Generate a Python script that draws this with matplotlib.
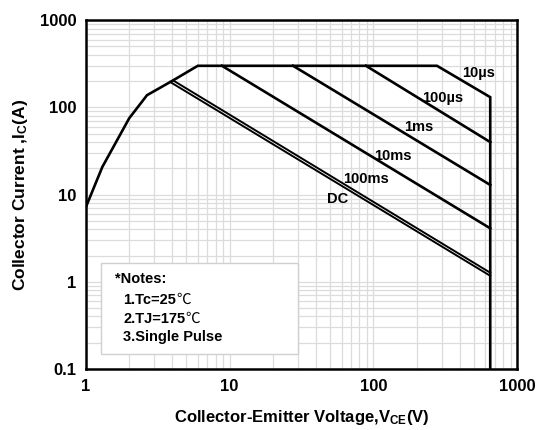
import matplotlib
matplotlib.use("Agg")
import matplotlib.pyplot as plt
import matplotlib.patches as mpatches
from matplotlib.ticker import LogLocator, NullFormatter, FixedLocator, FixedFormatter

plt.rcParams["font.family"] = ["Liberation Sans", "DejaVu Sans"]
plt.rcParams["font.weight"] = "bold"
plt.rcParams["mathtext.default"] = "regular"

# ---------------------------------------------------------------------------
# Data
# ---------------------------------------------------------------------------
# 10us envelope: rising limit, 300 A ceiling, power limit, 650 V wall
env_v = [1.0, 1.3, 2.0, 2.66, 4.04, 6.0, 277, 650, 650]
env_i = [7.2, 20.7, 75, 138, 204, 300, 300, 131, 0.1]

us100_v = [88.8, 650]
us100_i = [300, 40]
ms1_v = [27.6, 650]
ms1_i = [300, 12.9]
ms10_v = [8.84, 650]
ms10_i = [300, 4.1]
ms100_v = [4.04, 650]
ms100_i = [204, 1.27]
dc_v = [3.85, 650]
dc_i = [196, 1.17]

curve_labels = ["10µs", "100µs", "1ms", "10ms", "100ms", "DC"]
label_v = [535, 305, 208, 137, 89, 56]
label_i = [247, 128, 59, 27.6, 15.1, 8.9]

x_ticks = [1, 10, 100, 1000]
x_ticklabels = ["1", "10", "100", "1000"]
y_ticks = [0.1, 1, 10, 100, 1000]
y_ticklabels = ["0.1", "1", "10", "100", "1000"]

notes = ["*Notes:", "1.Tc=25", "2.TJ=175", "3.Single Pulse"]
notes_unit = ["", "℃", "℃", ""]

# ---------------------------------------------------------------------------
fig = plt.figure(figsize=(5.37, 4.30), dpi=100)
ax = fig.add_axes([0.160, 0.142, 0.803, 0.811])

ax.set_xscale("log")
ax.set_yscale("log")
ax.set_xlim(1, 1000)
ax.set_ylim(0.1, 1000)

grid_kw = dict(color="#dcdcdc", linewidth=0.9)
ax.xaxis.set_minor_locator(LogLocator(base=10, subs=range(2, 10)))
ax.yaxis.set_minor_locator(LogLocator(base=10, subs=range(2, 10)))
ax.xaxis.set_minor_formatter(NullFormatter())
ax.yaxis.set_minor_formatter(NullFormatter())
ax.grid(True, which="both", **grid_kw)
ax.set_axisbelow(True)

ax.xaxis.set_major_locator(FixedLocator(x_ticks))
ax.xaxis.set_major_formatter(FixedFormatter(x_ticklabels))
ax.yaxis.set_major_locator(FixedLocator(y_ticks))
ax.yaxis.set_major_formatter(FixedFormatter(y_ticklabels))
ax.tick_params(which="both", length=0)
ax.tick_params(axis="x", labelsize=12, pad=7)
ax.tick_params(axis="y", labelsize=12, pad=7)
for lab in ax.get_xticklabels() + ax.get_yticklabels():
    lab.set_fontweight("bold")

for spine in ax.spines.values():
    spine.set_linewidth(1.8)
    spine.set_color("black")
    spine.set_zorder(10)

line_kw = dict(color="black", linewidth=1.9, solid_joinstyle="miter")
ax.plot(env_v, env_i, **line_kw)
ax.plot(us100_v, us100_i, **line_kw)
ax.plot(ms1_v, ms1_i, **line_kw)
ax.plot(ms10_v, ms10_i, **line_kw)
ax.plot(ms100_v, ms100_i, color="black", linewidth=1.4)
ax.plot(dc_v, dc_i, color="black", linewidth=1.4)

for txt, v, i in zip(curve_labels, label_v, label_i):
    ax.text(v, i, txt, fontsize=10.5, fontweight="bold",
            ha="center", va="center")

ax.set_xlabel("Collector-Emitter Voltage,V$_{CE}$(V)", fontsize=12,
              fontweight="bold", labelpad=10)
ax.set_ylabel("Collector Current ,I$_{C}$(A)", fontsize=12.5,
              fontweight="bold", labelpad=7)

# notes box (figure coordinates, drawn inside the axes)
box = mpatches.Rectangle((101 / 537, 1 - 354 / 430), 197 / 537, 91 / 430,
                         transform=fig.transFigure, facecolor="white",
                         edgecolor="#d0d0d0", linewidth=1.0, zorder=5,
                         clip_on=False)
ax.add_patch(box)
note_x = [115, 123, 123, 123]
note_y = [279, 300, 319, 337]
for txt, unit, nx, ny in zip(notes, notes_unit, note_x, note_y):
    t = ax.text(nx / 537, 1 - ny / 430, txt, fontsize=10.5, fontweight="bold",
                ha="left", va="center", zorder=6, transform=fig.transFigure)
    if unit:
        ax.annotate(unit, xy=(1.0, 0.5), xycoords=t,
                    fontsize=10.5, fontweight="normal",
                    family=["Noto Sans CJK SC", "DejaVu Sans"],
                    ha="left", va="center", zorder=6,
                    annotation_clip=False)

fig.savefig("out.png", dpi=100)
